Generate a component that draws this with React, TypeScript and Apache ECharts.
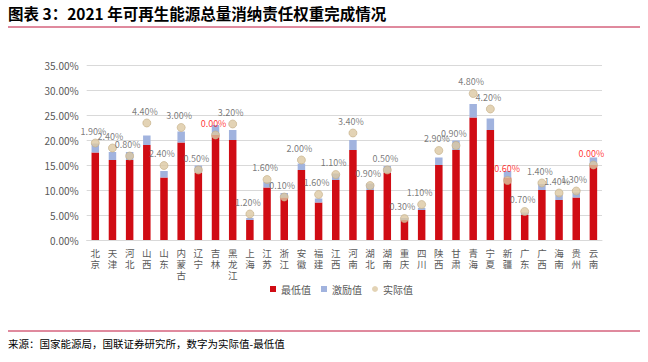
import React, { useEffect, useRef } from "react";
import * as echarts from "echarts";

const provinces = ["北京","天津","河北","山西","山东","内蒙古","辽宁","吉林","黑龙江","上海","江苏","浙江","安徽","福建","江西","河南","湖北","湖南","重庆","四川","陕西","甘肃","青海","宁夏","新疆","广东","广西","海南","贵州","云南"];
const minValues = [17.5,16.0,16.0,19.0,12.5,19.5,13.5,21.0,20.0,4.0,10.5,8.5,14.0,7.5,12.0,18.0,10.0,13.5,4.0,6.0,15.0,18.0,24.5,22.0,12.5,5.0,10.0,8.0,8.5,15.0];
const incentiveValues = [19.3,17.6,17.6,20.9,13.8,21.7,14.9,23.0,22.0,4.4,11.6,9.4,15.3,8.3,13.3,20.0,11.3,14.8,4.4,6.4,16.5,19.9,27.2,24.3,13.8,5.5,11.2,9.0,9.5,16.5];
const actualValues = [19.4,18.4,16.8,23.4,14.9,22.5,14.0,21.0,23.2,5.2,12.1,8.6,16.0,9.1,13.1,21.4,10.9,14.0,4.3,7.1,17.9,18.9,29.3,26.2,11.9,5.7,11.4,9.4,9.8,15.0];
const yTicks = [0, 5, 10, 15, 20, 25, 30, 35];

const TITLE = "图表 3：2021 年可再生能源总量消纳责任权重完成情况";
const SOURCE = "来源：国家能源局，国联证券研究所，数字为实际值-最低值";
const FONT = "'Noto Sans CJK SC', 'Noto Sans', sans-serif";

export default function App() {
  const ref = useRef<HTMLDivElement>(null);
  useEffect(() => {
    if (!ref.current) return;
    const chart = echarts.init(ref.current, undefined, { renderer: "svg" });
    const diffs = actualValues.map((a, i) => Math.round((a - minValues[i]) * 100) / 100);
    chart.setOption({
      animation: false,
      textStyle: { fontFamily: FONT },
      grid: { left: 86.7, right: 46, top: 65, bottom: 122, containLabel: false },
      legend: {
        bottom: 63,
        left: 265,
        itemWidth: 6,
        itemHeight: 6,
        itemGap: 10,
        textStyle: { fontSize: 10, color: "#595959", fontFamily: FONT },
        data: [
          { name: "最低值", icon: "rect" },
          { name: "激励值", icon: "rect" },
          { name: "实际值", icon: "circle", itemStyle: { borderWidth: 0 } },
        ],
      },
      xAxis: {
        type: "category",
        data: provinces,
        axisTick: { show: false },
        axisLine: { lineStyle: { color: "#d9d9d9" } },
        axisLabel: {
          interval: 0,
          margin: 7,
          fontSize: 9.5,
          lineHeight: 11,
          color: "#595959",
          formatter: (v: string) => v.split("").join("\n"),
        },
      },
      yAxis: {
        type: "value",
        min: yTicks[0],
        max: yTicks[yTicks.length - 1],
        interval: 5,
        axisLine: { show: false },
        axisTick: { show: false },
        splitLine: { lineStyle: { color: "#d9d9d9" } },
        axisLabel: {
          fontSize: 10,
          color: "#595959",
          margin: 8,
          formatter: (v: number) => v.toFixed(2) + "%",
        },
      },
      series: [
        {
          name: "最低值",
          type: "bar",
          stack: "w",
          barWidth: 7.5,
          itemStyle: { color: "#d00c14" },
          data: minValues,
        },
        {
          name: "激励值",
          type: "bar",
          stack: "w",
          barWidth: 7.5,
          itemStyle: { color: "#a1b3de" },
          data: incentiveValues.map((v, i) => Math.round((v - minValues[i]) * 100) / 100),
        },
        {
          name: "实际值",
          type: "scatter",
          symbolSize: 8,
          itemStyle: { color: "#dcc8a2", borderColor: "#c4ae86", borderWidth: 0.8 },
          data: actualValues.map((v, i) => ({
            value: v,
            label: {
              show: true,
              position: "top",
              distance: 3,
              offset: [-2, 0],
              fontSize: 9,
              color: diffs[i] <= 0 ? "#ff0000" : "#595959",
              formatter: () => diffs[i].toFixed(2) + "%",
            },
          })),
          z: 5,
        },
      ],
      graphic: [
        {
          type: "text",
          left: 8,
          top: 5,
          style: { text: TITLE, font: `bold 15.5px ${FONT}`, fill: "#000" },
        },
        {
          type: "line",
          shape: { x1: 8, y1: 27, x2: 640, y2: 27 },
          style: { stroke: "#c0143c", lineWidth: 1 },
        },
        {
          type: "line",
          shape: { x1: 8, y1: 331, x2: 640, y2: 331 },
          style: { stroke: "#c0143c", lineWidth: 1 },
        },
        {
          type: "text",
          left: 8,
          top: 338,
          style: { text: SOURCE, font: `10.5px ${FONT}`, fill: "#000" },
        },
      ],
    });
    return () => chart.dispose();
  }, []);
  return (
    <div
      ref={ref}
      style={{ position: "fixed", left: 0, top: 0, width: 648, height: 362, background: "#fff" }}
    />
  );
}
